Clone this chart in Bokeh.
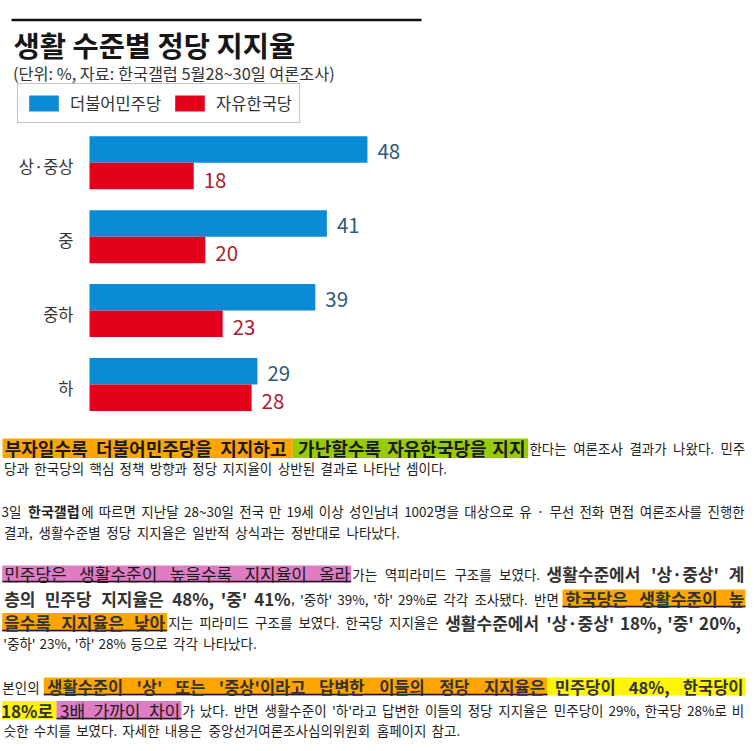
import numpy as np
from bokeh.plotting import figure
from bokeh.models import Range1d, Legend, LegendItem
from bokeh.embed import file_html
from bokeh.resources import INLINE
from bokeh.core.properties import value

# ---------------- chart data ----------------
categories = ["상·중상", "중", "중하", "하"]
minju = [48, 41, 39, 29]
hanguk = [18, 20, 23, 28]
series_names = ["더불어민주당", "자유한국당"]
title_text = "생활 수준별 정당 지지율"
subtitle_text = "(단위: %, 자료: 한국갤럽 5월28~30일 여론조사)"

# ---------------- article text (content) ----------------
# each line: (y centre, [(text, x_start, x_end, style), ...])
article = [
    (447.5, [("부자일수록 더불어민주당을 지지하고", 3.3, 286.7, "p1"),
             ("가난할수록 자유한국당을 지지", 296.7, 525.3, "p1"),
             ("한다는 여론조사 결과가 나왔다. 민주", 528.5, 745, "s")]),
    (467.5, [("당과 한국당의 핵심 정책 방향과 정당 지지율이 상반된 결과로 나타난 셈이다.", 3.3, 447, "s")]),
    (510.0, [("3일", 3.3, 18.8, "s"),
             ("한국갤럽", 26.7, 80, "b13"),
             ("에 따르면 지난달 28~30일 전국 만 19세 이상 성인남녀 1002명을 대상으로 유 · 무선 전화 면접 여론조사를 진행한", 80.5, 744.7, "s")]),
    (531.0, [("결과, 생활수준별 정당 지지율은 일반적 상식과는 정반대로 나타났다.", 3.3, 400, "s")]),
    (573.0, [("민주당은 생활수준이 높을수록 지지율이 올라", 3, 350, "n15"),
             ("가는 역피라미드 구조를 보였다.", 351.5, 540, "s"),
             ("생활수준에서 '상·중상' 계", 545, 744, "b16")]),
    (598.0, [("층의 민주당 지지율은 48%, '중' 41%", 3.3, 290, "b15"),
             (", '중하' 39%, '하' 29%로 각각 조사됐다. 반면", 290.5, 558.7, "s"),
             ("한국당은 생활수준이 높", 564, 744, "b16")]),
    (621.5, [("을수록 지지율은 낮아", 3, 165, "b16"),
             ("지는 피라미드 구조를 보였다. 한국당 지지율은", 167.5, 438.7, "s"),
             ("생활수준에서 '상·중상' 18%, '중' 20%,", 443.7, 740, "b16")]),
    (642.5, [("'중하' 23%, '하' 28% 등으로 각각 나타났다.", 3, 256.7, "s")]),
    (686.0, [("본인의", 3, 38, "s"),
             ("생활수준이 '상' 또는 '중상'이라고 답변한 이들의 정당 지지율은", 46, 545, "b14"),
             ("민주당이 48%, 한국당이", 553.7, 743.7, "b14")]),
    (709.5, [("18%로", 3, 50, "b15"),
             ("3배 가까이 차이", 59.3, 180, "n15"),
             ("가 났다. 반면 생활수준이 '하'라고 답변한 이들의 정당 지지율은 민주당이 29%, 한국당 28%로 비", 181.5, 743.7, "s")]),
    (729.0, [("슷한 수치를 보였다. 자세한 내용은 중앙선거여론조사심의위원회 홈페이지 참고.", 3, 460, "s")]),
]

# ---------------- styling / layout ----------------
FONT = "Noto Sans CJK KR"
W, H = 752, 749
BLUE, RED = "#0b8ad5", "#e3001b"
ORANGE, GREEN, PINK, YELLOW = "#ffa500", "#99cc00", "#e07cc4", "#fff500"

STYLES = {
    "s":   dict(size=13.5, bold=False, color="#222222"),
    "p1":  dict(size=18.0, bold=True, color="#1a1a1a"),
    "b13": dict(size=14.0, bold=True, color="#222222"),
    "b14": dict(size=16.5, bold=True, color="#333333"),
    "b15": dict(size=17.0, bold=True, color="#333333"),
    "b16": dict(size=17.0, bold=True, color="#333333"),
    "n15": dict(size=17.0, bold=False, color="#1a1a1a"),
}

# highlight boxes (x0, x1, y0, y1, colour) and underlines (x0, x1, y)
highlights = [
    (2, 292.3, 438, 457.5, ORANGE), (292.3, 527.7, 438, 457.5, GREEN),
    (1.7, 350.7, 565, 582, PINK),
    (562, 745, 589, 607, ORANGE),
    (1.7, 166.7, 612.5, 631, ORANGE),
    (43.3, 547, 677, 695, ORANGE), (547, 745, 677, 695, YELLOW),
    (1.7, 56, 700.5, 719, YELLOW), (56, 181, 700.5, 719, PINK),
]
underlines = [
    (2, 350.7, 581), (562, 745, 606), (1.7, 166.7, 630),
    (43.3, 547, 694), (56, 181, 718),
]

BAR_X0 = 89.0        # px of the bars' zero line
PX_PER_PCT = 5.79
GROUP_Y0 = 162.3     # px of the first category centre
GROUP_STEP = 73.9
BAR_H = 26.5 / GROUP_STEP
HANGUL_EM = 0.94     # effective advance of Hangul in the rendered font


def em_width(s, bold=False):
    w = 0.0
    for ch in s:
        o = ord(ch)
        if 0xAC00 <= o <= 0xD7A3 or 0x3130 <= o <= 0x318F:
            w += HANGUL_EM
        elif ch.isdigit():
            w += 0.6 if bold else 0.555
        elif ch == "%":
            w += 0.92 if bold else 0.87
        elif ch in ",.:":
            w += 0.28
        elif ch == "'":
            w += 0.24
        elif ch == "~":
            w += 0.6
        elif ch in "()":
            w += 0.33
        elif ch == "·":
            w += 0.6
        elif ch == " ":
            w += 0.224
        else:
            w += 0.55
    return w


p = figure(width=W, height=H, x_range=Range1d(0, W), y_range=Range1d(H, 0),
           x_axis_location=None, y_axis_location=None, min_border=0,
           toolbar_location=None, tools="", output_backend="svg")
p.grid.visible = False
p.outline_line_color = None
p.background_fill_color = "white"
p.border_fill_color = "white"
p.extra_x_ranges = {"pct": Range1d(-BAR_X0 / PX_PER_PCT, (W - BAR_X0) / PX_PER_PCT)}
p.extra_y_ranges = {"cat": Range1d((H - GROUP_Y0) / GROUP_STEP, -GROUP_Y0 / GROUP_STEP)}

# ---- header ----
p.segment(x0=[11], y0=[19.5], x1=[421], y1=[19.5], line_color="#111111", line_width=2.5)
p.text(x=[13], y=[43.5], text=[title_text], text_align="left",
       text_baseline="middle", text_font=value(FONT), text_font_size="28.5px",
       text_font_style="bold", text_color="#161616")
p.text(x=[12.5], y=[72.5], text=[subtitle_text], text_align="left",
       text_baseline="middle", text_font=value(FONT), text_font_size="16.3px",
       text_color="#333333")

# ---- bars ----
idx = np.arange(len(categories))
half = BAR_H / 2
rb = p.hbar(y=idx - half, left=0, right=minju, height=BAR_H, fill_color=BLUE,
            line_color=None, x_range_name="pct", y_range_name="cat")
rr = p.hbar(y=idx + half, left=0, right=hanguk, height=BAR_H, fill_color=RED,
            line_color=None, x_range_name="pct", y_range_name="cat")

p.text(x=minju, y=idx - half, text=[str(v) for v in minju], x_offset=10, y_offset=2,
       text_align="left", text_baseline="middle", text_font=value(FONT),
       text_font_size="20.5px", text_color="#2c5b7c", x_range_name="pct", y_range_name="cat")
p.text(x=hanguk, y=idx + half, text=[str(v) for v in hanguk], x_offset=10, y_offset=4,
       text_align="left", text_baseline="middle", text_font=value(FONT),
       text_font_size="20.5px", text_color="#ac1c2e", x_range_name="pct", y_range_name="cat")
p.text(x=[0] * len(categories), y=idx, text=categories, x_offset=-16, y_offset=3,
       text_align="right", text_baseline="middle", text_font=value(FONT),
       text_font_size="16.5px", text_color="#333333", x_range_name="pct", y_range_name="cat")

legend = Legend(items=[LegendItem(label=series_names[0], renderers=[rb]),
                       LegendItem(label=series_names[1], renderers=[rr])],
                orientation="horizontal", location=(17, H - 123),
                glyph_width=37, glyph_height=20, label_height=20, padding=7,
                spacing=10, label_standoff=8, margin=0,
                label_text_font=FONT, label_text_font_size="16.5px",
                label_text_color="#333333", label_text_baseline="middle",
                border_line_color="#8c8c8c", border_line_width=1,
                background_fill_color="white", background_fill_alpha=1.0)
p.add_layout(legend)

# ---- article ----
p.quad(left=[h[0] for h in highlights], right=[h[1] for h in highlights],
       top=[h[2] for h in highlights], bottom=[h[3] for h in highlights],
       fill_color=[h[4] for h in highlights], line_color=None)
p.segment(x0=[u[0] for u in underlines], x1=[u[1] for u in underlines],
          y0=[u[2] for u in underlines], y1=[u[2] for u in underlines],
          line_color="#1a1a1a", line_width=1.5)

acc = {k: dict(x=[], y=[], t=[]) for k in STYLES}
for ry, segs in article:
    for text, x0, x1, style in segs:
        st = STYLES[style]
        words = [w for w in text.split(" ") if w]
        ws = [em_width(w, st["bold"]) * st["size"] for w in words]
        if len(words) > 1:
            gap = (x1 - x0 - sum(ws)) / (len(words) - 1)
            pos = x0
        else:
            gap = 0.0
            pos = (x0 + x1 - ws[0]) / 2
        for w, wd in zip(words, ws):
            acc[style]["x"].append(pos + wd / 2)
            acc[style]["y"].append(ry)
            acc[style]["t"].append(w)
            pos += wd + gap

for key, st in STYLES.items():
    d = acc[key]
    if not d["t"]:
        continue
    p.text(x=d["x"], y=d["y"], text=d["t"], text_align="center", text_baseline="middle",
           text_font=value(FONT), text_font_size=f"{st['size']}px",
           text_font_style="bold" if st["bold"] else "normal", text_color=st["color"])

with open("out.html", "w", encoding="utf-8") as f:
    f.write(file_html(p, INLINE, title="생활 수준별 정당 지지율"))
